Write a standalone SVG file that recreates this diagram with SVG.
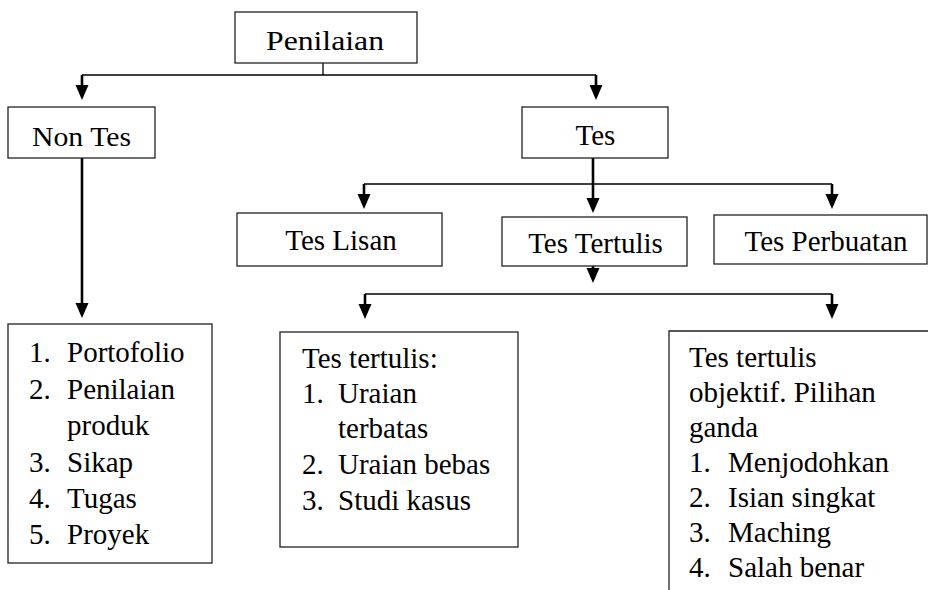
<svg xmlns="http://www.w3.org/2000/svg" width="928" height="590" viewBox="0 0 928 590">
<defs>
<style>
.box{fill:#fff;stroke:#222;stroke-width:1.3}
.t{font-family:"Liberation Serif",Tinos,"Times New Roman",serif;font-size:29px;fill:#000}
.c{text-anchor:middle}
.ln{fill:none;stroke:#000;stroke-width:1.3}
.th{fill:none;stroke:#000;stroke-width:2.6}
</style>
<marker id="ah" markerUnits="userSpaceOnUse" markerWidth="15" markerHeight="13" refX="0" refY="6.5" orient="auto" overflow="visible">
<path d="M0,0 L15,6.5 L0,13 z" fill="#000"/>
</marker>
</defs>
<rect width="928" height="590" fill="#fff"/>
<g id="connectors">
<path class="ln" d="M323,63 V75 M82,75 H596"/>
<path class="th" d="M82,75 V85" marker-end="url(#ah)"/>
<path class="th" d="M596,75 V85" marker-end="url(#ah)"/>
<path class="th" d="M82,158 V303" marker-end="url(#ah)"/>
<path class="th" d="M593,158 V198" marker-end="url(#ah)"/>
<path class="ln" d="M364,184 H832"/>
<path class="th" d="M364,184 V194" marker-end="url(#ah)"/>
<path class="th" d="M832,184 V194" marker-end="url(#ah)"/>
<path class="th" d="M593,266 V268" marker-end="url(#ah)"/>
<path class="ln" d="M365,294 H832"/>
<path class="th" d="M365,294 V304" marker-end="url(#ah)"/>
<path class="th" d="M832,294 V304" marker-end="url(#ah)"/>
</g>
<g id="penilaian">
<rect class="box" x="235" y="12" width="182" height="51"/>
<text class="t" x="266" y="50" textLength="118" lengthAdjust="spacingAndGlyphs" style="font-size:28px">Penilaian</text>
</g>
<g id="non-tes">
<rect class="box" x="8" y="107" width="147" height="51"/>
<text class="t" x="32" y="145.5" textLength="99" lengthAdjust="spacingAndGlyphs" style="font-size:27px">Non Tes</text>
</g>
<g id="tes">
<rect class="box" x="522" y="107" width="146" height="51"/>
<text class="t c" x="595.5" y="145">Tes</text>
</g>
<g id="tes-lisan">
<rect class="box" x="237" y="213" width="205" height="53"/>
<text class="t c" x="341" y="250">Tes Lisan</text>
</g>
<g id="tes-tertulis">
<rect class="box" x="502" y="217" width="185" height="49"/>
<text class="t c" x="595.5" y="253">Tes Tertulis</text>
</g>
<g id="tes-perbuatan">
<rect class="box" x="714" y="215" width="213" height="49"/>
<text class="t c" x="826" y="251">Tes Perbuatan</text>
</g>
<g id="non-tes-list">
<rect class="box" x="8" y="324" width="204" height="239"/>
<text class="t">
<tspan x="29" y="362">1.</tspan><tspan x="67" y="362">Portofolio</tspan>
<tspan x="29" y="399">2.</tspan><tspan x="67" y="399">Penilaian</tspan>
<tspan x="67" y="435">produk</tspan>
<tspan x="29" y="472">3.</tspan><tspan x="67" y="472">Sikap</tspan>
<tspan x="29" y="508">4.</tspan><tspan x="67" y="508">Tugas</tspan>
<tspan x="29" y="544">5.</tspan><tspan x="67" y="544">Proyek</tspan>
</text>
</g>
<g id="tes-tertulis-uraian">
<rect class="box" x="280" y="332" width="238" height="215"/>
<text class="t">
<tspan x="302" y="368">Tes tertulis:</tspan>
<tspan x="302" y="403">1.</tspan><tspan x="338" y="403">Uraian</tspan>
<tspan x="338" y="438">terbatas</tspan>
<tspan x="302" y="474">2.</tspan><tspan x="338" y="474">Uraian bebas</tspan>
<tspan x="302" y="510">3.</tspan><tspan x="338" y="510">Studi kasus</tspan>
</text>
</g>
<g id="tes-tertulis-objektif">
<path class="box" d="M928,331 H669 V590" fill="none"/>
<text class="t">
<tspan x="689" y="367">Tes tertulis</tspan>
<tspan x="689" y="402">objektif. Pilihan</tspan>
<tspan x="689" y="437">ganda</tspan>
<tspan x="689" y="472">1.</tspan><tspan x="728" y="472">Menjodohkan</tspan>
<tspan x="689" y="507">2.</tspan><tspan x="728" y="507">Isian singkat</tspan>
<tspan x="689" y="542">3.</tspan><tspan x="728" y="542">Maching</tspan>
<tspan x="689" y="577">4.</tspan><tspan x="728" y="577">Salah benar</tspan>
</text>
</g>
</svg>
